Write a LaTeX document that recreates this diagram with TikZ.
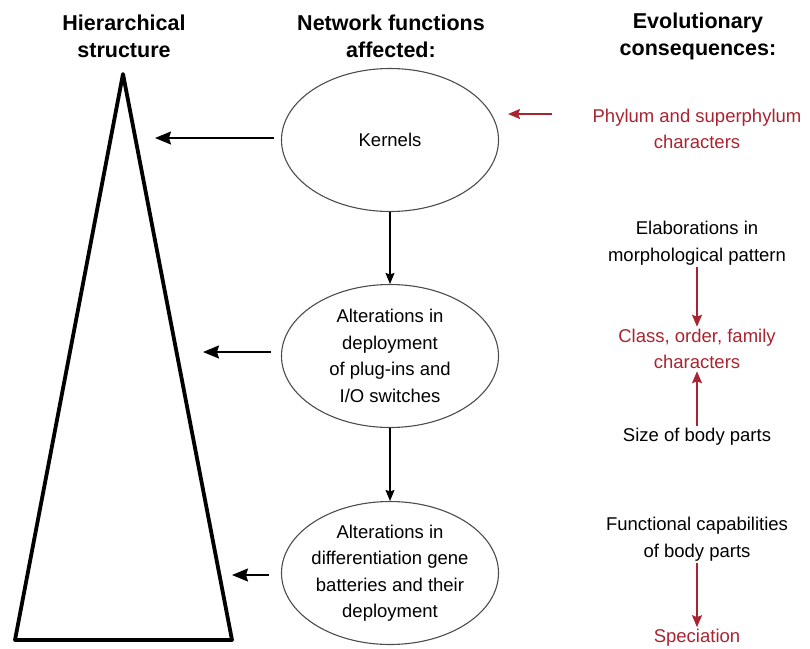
\documentclass[tikz,border=0pt]{standalone}
\usepackage{fontspec}
\setmainfont{Liberation Sans}
\usetikzlibrary{shapes.geometric,arrows.meta}
\definecolor{conseqred}{RGB}{168,36,48}
\tikzset{
  headtext/.style={font=\fontsize{21.5}{27}\selectfont\bfseries,align=center,inner sep=0pt},
  bodytext/.style={font=\fontsize{18.5}{26.5}\selectfont,align=center,inner sep=2pt},
  redtext/.style={bodytext,text=conseqred},
  netfun/.style={ellipse,draw=black!70,line width=1.1pt,minimum width=217pt,minimum height=143pt,bodytext,inner xsep=-10pt,inner ysep=-6pt},
  leftarrow/.style={line width=1.8pt,-{Stealth[length=16pt,width=13pt,inset=2pt]}},
  downarrow/.style={line width=1.1pt,-{Stealth[length=11pt,width=9pt,inset=1.5pt]}},
  redarrow/.style={draw=conseqred,line width=1.8pt,-{Stealth[length=12pt,width=10pt,inset=2pt]}}
}
\begin{document}
\begin{tikzpicture}[x=1pt,y=-1pt]
\useasboundingbox (0,0) rectangle (810,648);
\node[headtext] (hhier) at (124,36) {Hierarchical\\structure};
\node[headtext] (hnet) at (391,36) {Network functions\\affected:};
\node[headtext] (hevo) at (698,36) {Evolutionary\\consequences:};
\draw[line width=3.8pt,line join=round] (123,74) -- (232,640) -- (15,640) -- cycle;
\node[netfun] (kern) at (390,140) {Kernels};
\node[netfun] (plug) at (390,356) {Alterations in\\deployment\\of plug-ins and\\I/O switches};
\node[netfun] (batt) at (390,573) {Alterations in\\differentiation gene\\batteries and their\\deployment};
\draw[downarrow] (kern) -- (plug);
\draw[downarrow] (plug) -- (batt);
\coordinate (t1) at (155,138);
\coordinate (t2) at (203,352);
\coordinate (t3) at (232,575);
\draw[leftarrow,shorten <=7pt] (kern.west |- t1) -- (t1);
\draw[leftarrow,shorten <=10pt] (plug.west |- t2) -- (t2);
\draw[leftarrow,shorten <=12pt] (batt.west |- t3) -- (t3);
\node[redtext] (phyl) at (697,129) {Phylum and superphylum\\characters};
\node[bodytext] (elab) at (697,243) {Elaborations in\\morphological pattern};
\node[redtext] (clas) at (697,349) {Class, order, family\\characters};
\node[bodytext] (size) at (697,437) {Size of body parts};
\node[bodytext] (func) at (697,539) {Functional capabilities\\of body parts};
\node[redtext] (spec) at (697,638) {Speciation};
\coordinate (r1) at (552,114);
\draw[redarrow,shorten >=9pt] (r1) -- (kern.east |- r1);
\draw[redarrow] (elab) -- (clas);
\draw[redarrow] (size) -- (clas);
\draw[redarrow] (func) -- (spec);
\end{tikzpicture}
\end{document}
